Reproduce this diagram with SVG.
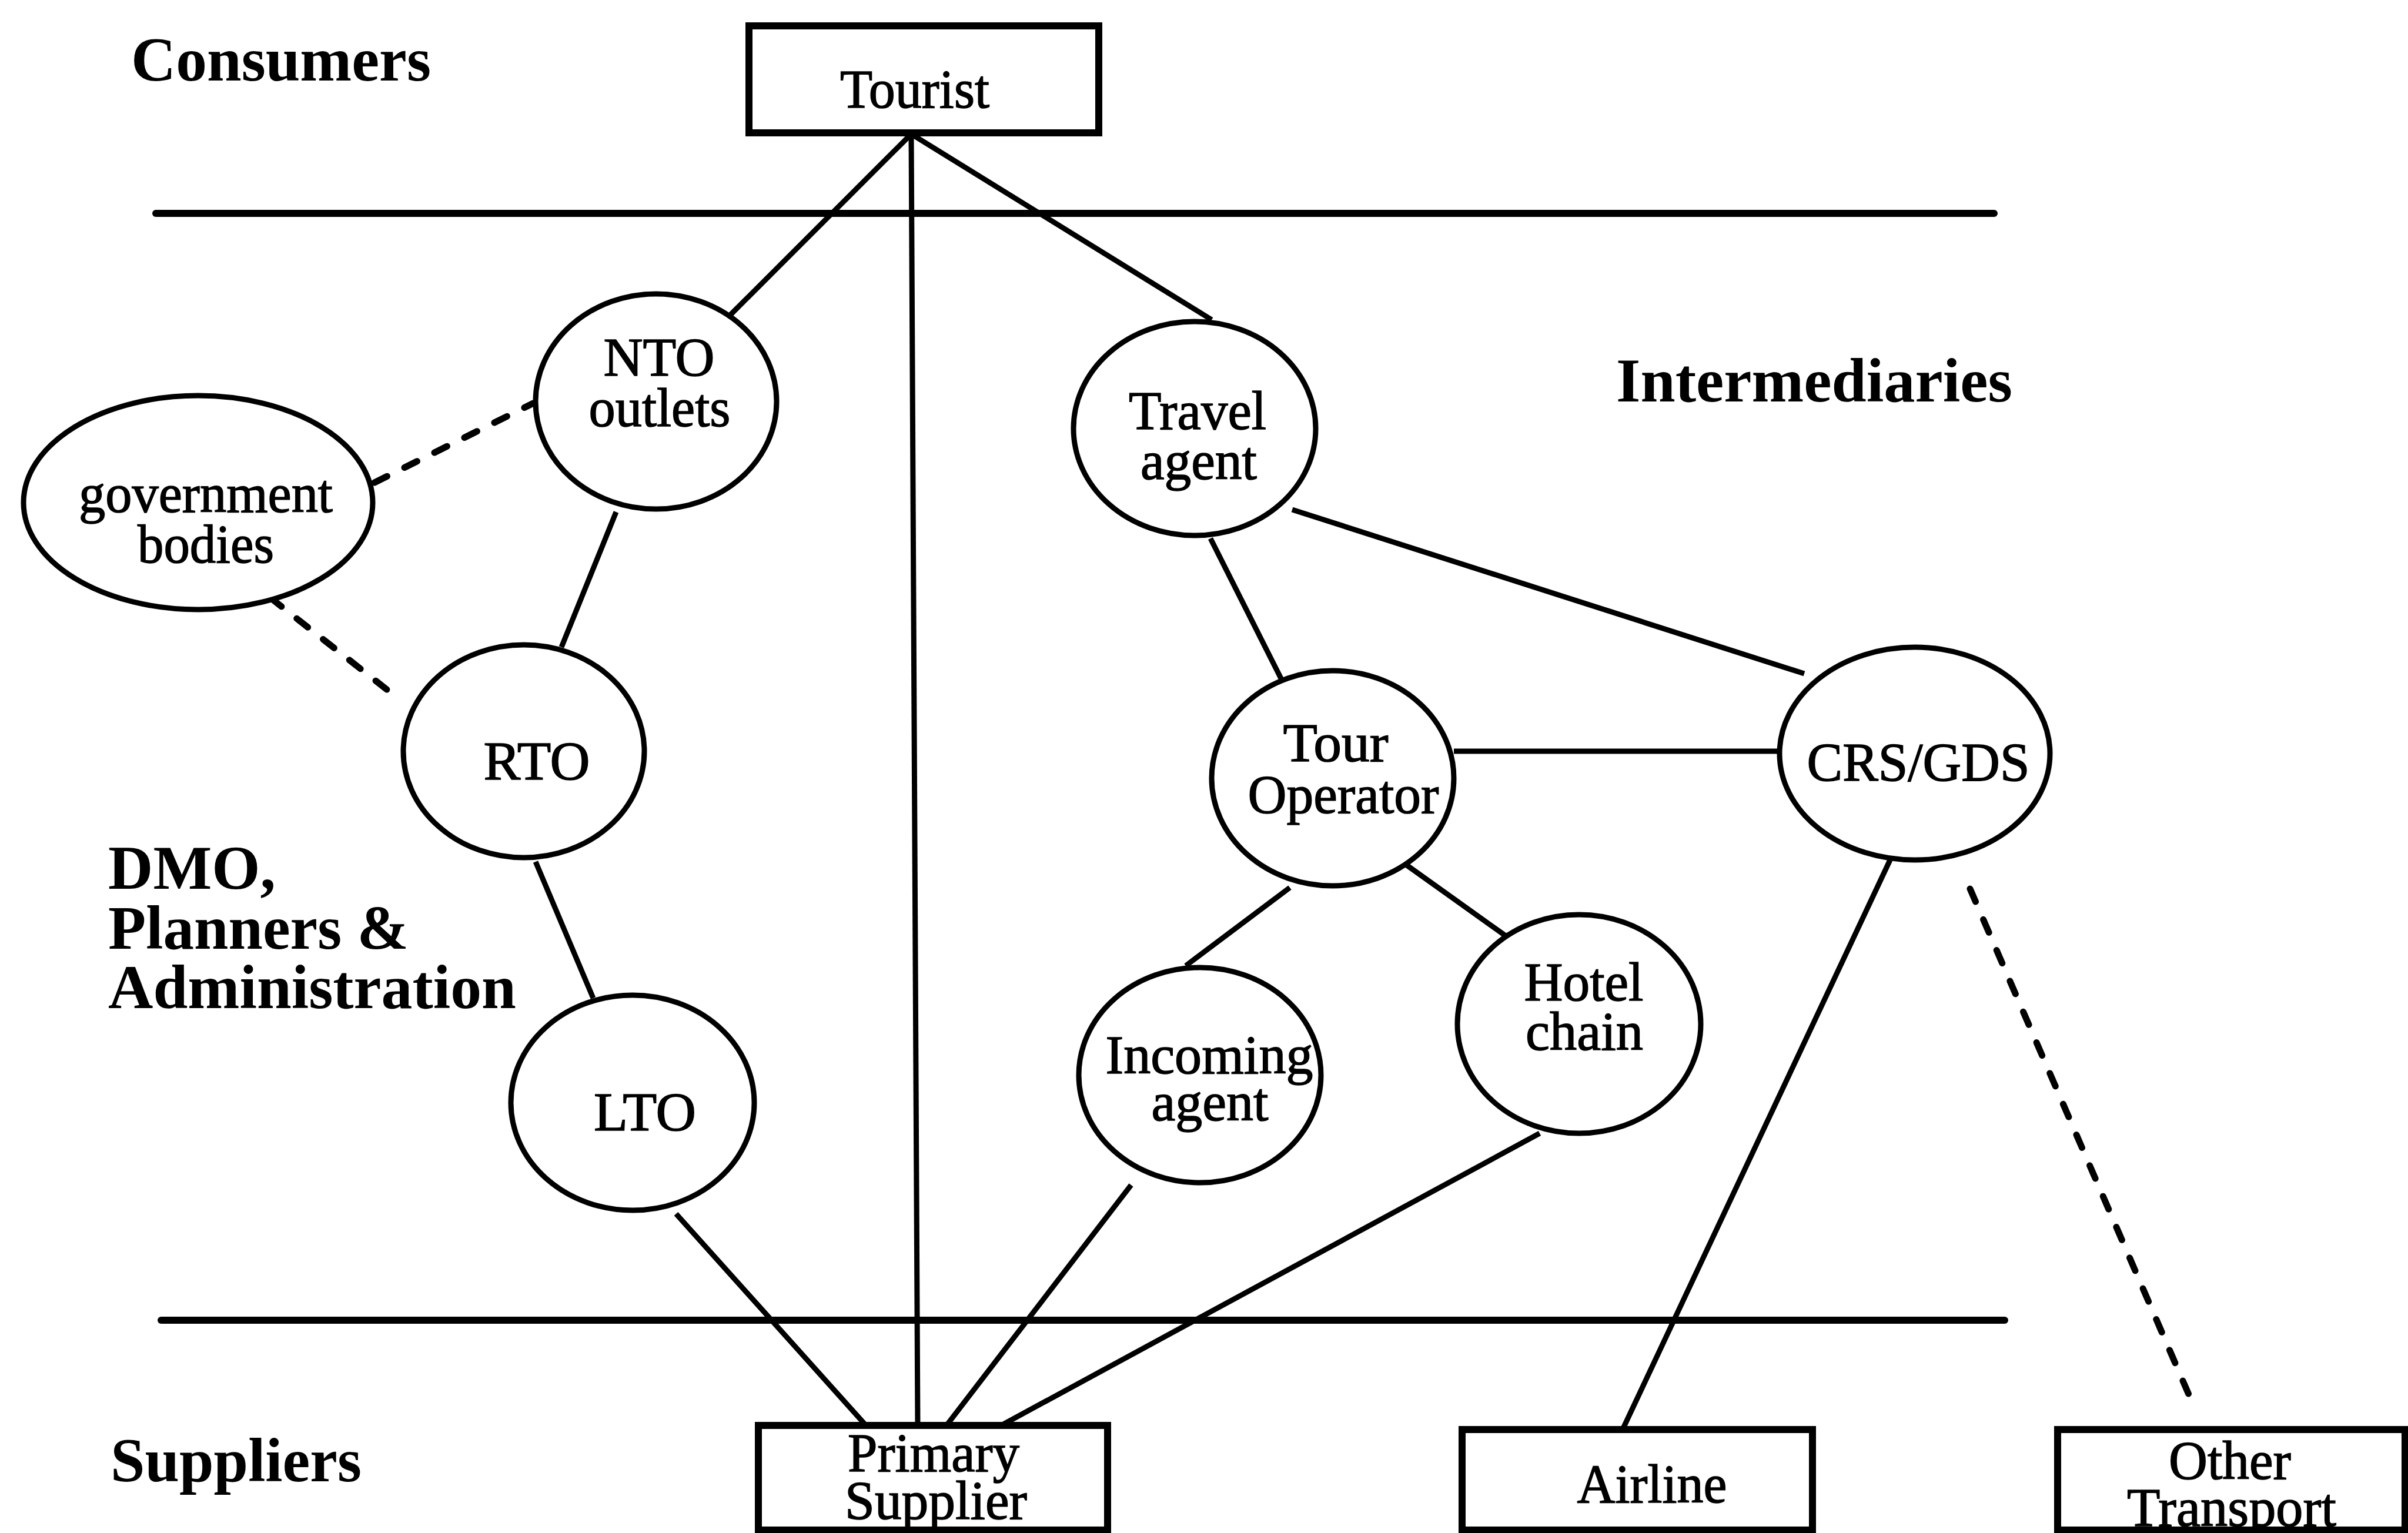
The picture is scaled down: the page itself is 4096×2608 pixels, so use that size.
<svg xmlns="http://www.w3.org/2000/svg" width="4096" height="2608" viewBox="0 0 4096 2608">
  <style>
    .bg { fill: #ffffff; }
    .sep { stroke: #000; stroke-width: 12; stroke-linecap: round; fill: none; }
    .link { stroke: #000; stroke-width: 9; fill: none; }
    .dash { stroke: #000; stroke-width: 11; fill: none; stroke-dasharray: 24 33; stroke-linecap: round; }
    .node ellipse { fill: #ffffff; stroke: #000; stroke-width: 9; }
    .node rect { fill: #ffffff; stroke: #000; stroke-width: 12; }
    .lbl { font-family: "Liberation Serif", "Times New Roman", serif; font-size: 93px; fill: #000; stroke: #000; stroke-width: 1.5; text-anchor: middle; }
    .head { font-family: "Liberation Serif", "Times New Roman", serif; font-size: 105px; font-weight: bold; fill: #000; }
  </style>

  <rect class="bg" x="0" y="0" width="4096" height="2608"/>

  <!-- layer labels -->
  <g id="headings">
    <text class="head" x="223" y="137" textLength="510" lengthAdjust="spacingAndGlyphs">Consumers</text>
    <text class="head" x="2749" y="683" textLength="674" lengthAdjust="spacingAndGlyphs">Intermediaries</text>
    <text class="head" x="184" y="1512" textLength="285" lengthAdjust="spacingAndGlyphs">DMO,</text>
    <text class="head" x="184" y="1614" textLength="511" lengthAdjust="spacingAndGlyphs">Planners &amp;</text>
    <text class="head" x="184" y="1715" textLength="694" lengthAdjust="spacingAndGlyphs">Administration</text>
    <text class="head" x="188" y="2520" textLength="427" lengthAdjust="spacingAndGlyphs">Suppliers</text>
  </g>

  <!-- layer separators -->
  <g id="separators">
    <line class="sep" x1="265" y1="363" x2="3392" y2="363"/>
    <line class="sep" x1="274" y1="2246" x2="3410" y2="2246"/>
  </g>

  <!-- connectors -->
  <g id="connectors">
    <line class="link" x1="1550" y1="228" x2="1243" y2="535"/>
    <line class="link" x1="1550" y1="228" x2="1561" y2="2425"/>
    <line class="link" x1="1550" y1="228" x2="2061" y2="544"/>
    <line class="link" x1="1048" y1="871" x2="955" y2="1101"/>
    <line class="link" x1="911" y1="1466" x2="1009" y2="1698"/>
    <line class="link" x1="1150" y1="2065" x2="1473" y2="2425"/>
    <line class="link" x1="2059" y1="916" x2="2197" y2="1190"/>
    <line class="link" x1="2198" y1="867" x2="3069" y2="1146"/>
    <line class="link" x1="2473" y1="1278" x2="3027" y2="1278"/>
    <line class="link" x1="2194" y1="1510" x2="2017" y2="1643"/>
    <line class="link" x1="2393" y1="1472" x2="2561" y2="1592"/>
    <line class="link" x1="1924" y1="2016" x2="1610" y2="2425"/>
    <line class="link" x1="2619" y1="1928" x2="1703" y2="2425"/>
    <line class="link" x1="3215" y1="1463" x2="2760" y2="2432"/>
    <line class="dash" x1="637" y1="821" x2="907" y2="686"/>
    <line class="dash" x1="460" y1="1017" x2="668" y2="1181"/>
    <line class="dash" x1="3351" y1="1512" x2="3729" y2="2386" stroke-dasharray="31 40"/>
  </g>

  <!-- nodes -->
  <g id="tourist" class="node">
    <rect x="1274" y="44" width="595" height="182"/>
    <text class="lbl" x="1556" y="183" textLength="254" lengthAdjust="spacingAndGlyphs">Tourist</text>
  </g>

  <g id="nto-outlets" class="node">
    <ellipse cx="1116" cy="683" rx="205" ry="183"/>
    <text class="lbl" x="1121" y="639" textLength="189" lengthAdjust="spacingAndGlyphs">NTO</text>
    <text class="lbl" x="1122" y="725" textLength="241" lengthAdjust="spacingAndGlyphs">outlets</text>
  </g>

  <g id="government-bodies" class="node">
    <ellipse cx="337" cy="855" rx="297" ry="182"/>
    <text class="lbl" x="350" y="871" textLength="432" lengthAdjust="spacingAndGlyphs">government</text>
    <text class="lbl" x="350" y="957" textLength="232" lengthAdjust="spacingAndGlyphs">bodies</text>
  </g>

  <g id="rto" class="node">
    <ellipse cx="891" cy="1278" rx="205" ry="181"/>
    <text class="lbl" x="913" y="1326" textLength="181" lengthAdjust="spacingAndGlyphs">RTO</text>
  </g>

  <g id="lto" class="node">
    <ellipse cx="1076" cy="1876" rx="207" ry="183"/>
    <text class="lbl" x="1097" y="1923" textLength="174" lengthAdjust="spacingAndGlyphs">LTO</text>
  </g>

  <g id="travel-agent" class="node">
    <ellipse cx="2032" cy="729" rx="206" ry="182"/>
    <text class="lbl" x="2037" y="730" textLength="234" lengthAdjust="spacingAndGlyphs">Travel</text>
    <text class="lbl" x="2039" y="815" textLength="198" lengthAdjust="spacingAndGlyphs">agent</text>
  </g>

  <g id="tour-operator" class="node">
    <ellipse cx="2267" cy="1324" rx="206" ry="183"/>
    <text class="lbl" x="2272" y="1295" textLength="179" lengthAdjust="spacingAndGlyphs">Tour</text>
    <text class="lbl" x="2285" y="1383" textLength="325" lengthAdjust="spacingAndGlyphs">Operator</text>
  </g>

  <g id="crs-gds" class="node">
    <ellipse cx="3257" cy="1282" rx="230" ry="181"/>
    <text class="lbl" x="3263" y="1328" textLength="379" lengthAdjust="spacingAndGlyphs">CRS/GDS</text>
  </g>

  <g id="incoming-agent" class="node">
    <ellipse cx="2041" cy="1829" rx="206" ry="183"/>
    <text class="lbl" x="2057" y="1826" textLength="353" lengthAdjust="spacingAndGlyphs">Incoming</text>
    <text class="lbl" x="2058" y="1906" textLength="199" lengthAdjust="spacingAndGlyphs">agent</text>
  </g>

  <g id="hotel-chain" class="node">
    <ellipse cx="2686" cy="1742" rx="207" ry="186"/>
    <text class="lbl" x="2694" y="1702" textLength="203" lengthAdjust="spacingAndGlyphs">Hotel</text>
    <text class="lbl" x="2695" y="1786" textLength="200" lengthAdjust="spacingAndGlyphs">chain</text>
  </g>

  <g id="primary-supplier" class="node">
    <rect x="1290" y="2425" width="594" height="178"/>
    <text class="lbl" x="1588" y="2503" textLength="292" lengthAdjust="spacingAndGlyphs">Primary</text>
    <text class="lbl" x="1592" y="2584" textLength="310" lengthAdjust="spacingAndGlyphs">Supplier</text>
  </g>

  <g id="airline" class="node">
    <rect x="2487" y="2432" width="596" height="171"/>
    <text class="lbl" x="2810" y="2556" textLength="255" lengthAdjust="spacingAndGlyphs">Airline</text>
  </g>

  <g id="other-transport" class="node">
    <rect x="3500" y="2432" width="591" height="171"/>
    <text class="lbl" x="3793" y="2516" textLength="208" lengthAdjust="spacingAndGlyphs">Other</text>
    <text class="lbl" x="3796" y="2596" textLength="356" lengthAdjust="spacingAndGlyphs">Transport</text>
  </g>
</svg>
